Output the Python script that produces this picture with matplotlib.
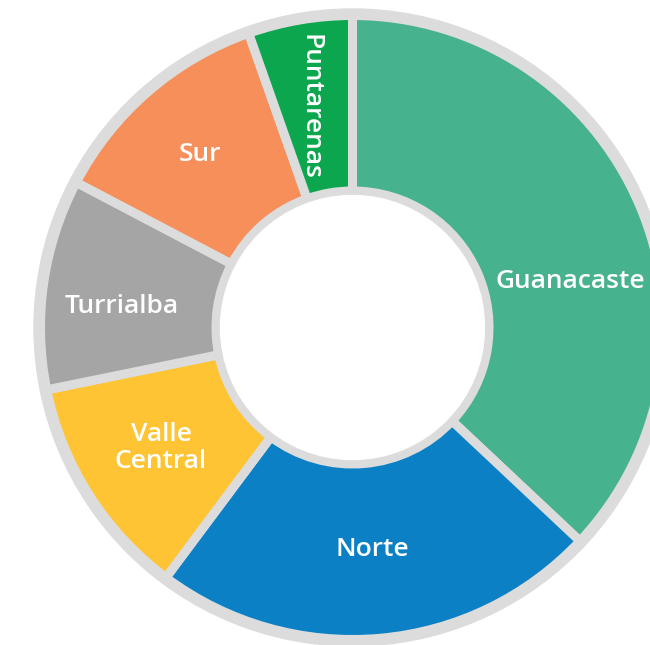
import matplotlib
matplotlib.use("Agg")
import matplotlib.pyplot as plt
from matplotlib.patches import Circle

# data (clockwise from the top)
regions = ["Guanacaste", "Norte", "Valle\nCentral", "Turrialba", "Sur", "Puntarenas"]
shares = [37.0, 23.2, 11.6, 10.9, 11.9, 5.4]
colors = ["#47B28E", "#0C80C4", "#FEC434", "#A5A5A5", "#F68F5A", "#0CA64E"]

GREY = "#DCDCDC"

# label spots in pixels of the 650x645 image (centre of the text)
label_px = [(570, 281), (372, 549), (161, 448), (122, 306), (200, 154), (310, 107)]
label_rot = [0, 0, 0, 0, 0, -90]

W, H = 650, 645
CX, CY = 352.5, 327.5     # pie centre in pixels
R_PX = 312.0              # wedge outer edge in pixels


def to_data(px, py):
    return (px - CX) / R_PX, (CY - py) / R_PX


def main():
    fig = plt.figure(figsize=(W / 100, H / 100), dpi=100)
    ax = fig.add_axes([0, 0, 1, 1])

    # grey outer rim behind the wedges
    ax.add_patch(Circle((0, 0), 318.5 / R_PX, color=GREY, zorder=0))

    ax.pie(shares, colors=colors, radius=1.0, startangle=90, counterclock=False,
           wedgeprops=dict(width=1 - 136.5 / R_PX, edgecolor=GREY, linewidth=6.5),
           frame=False)

    # white hole
    ax.add_patch(Circle((0, 0), 132.0 / R_PX, color="white", zorder=4))

    ax.set_xlim(-CX / R_PX, (W - CX) / R_PX)
    ax.set_ylim(-(H - CY) / R_PX, CY / R_PX)
    ax.set_aspect("equal")
    ax.axis("off")

    for name, (px, py), rot in zip(regions, label_px, label_rot):
        x, y = to_data(px, py)
        ax.text(x, y, name, color="white", fontsize=19, fontweight="semibold",
                family="Open Sans", ha="center", va="center", rotation=rot,
                linespacing=1.15, zorder=5)

    fig.savefig("out.png", dpi=100, facecolor="white")


if __name__ == '__main__':
    main()
